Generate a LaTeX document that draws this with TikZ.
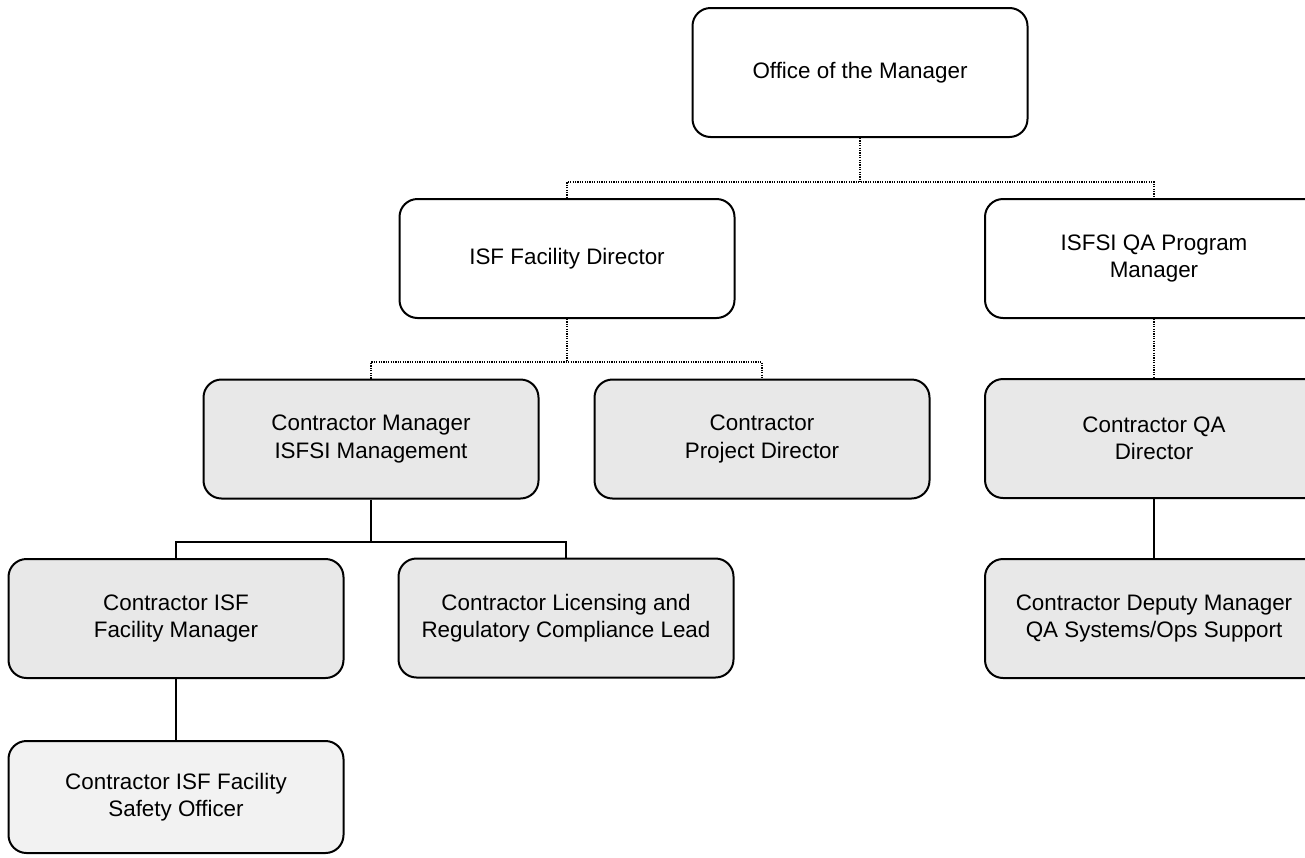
\documentclass[tikz,border=0pt]{standalone}
\usepackage{fontspec}
\setmainfont{Liberation Sans}
\begin{document}
\begin{tikzpicture}[x=0.5pt,y=-0.5pt,
  box/.style={draw=black, line width=1pt, rounded corners=9pt, align=center,
    inner sep=0pt, minimum width=167.5pt, minimum height=59.5pt,
    font=\fontsize{11.2}{13.7}\selectfont},
  shaded/.style={box, fill=black!9},
  dotline/.style={draw=black, line width=0.8pt, dash pattern=on 0.6pt off 0.6pt},
  solidline/.style={draw=black, line width=1pt}]
\useasboundingbox (0,0) rectangle (1305,857);
\clip (0,0) rectangle (1305,857);

% management level (plain boxes)
\node[box, minimum height=64.5pt] (off) at (860,72.5) {Office of the Manager};
\node[box] (isf) at (567,258.5) {ISF Facility Director};
\node[box, minimum width=169pt] (qa) at (1154,258.5) {ISFSI QA Program\\Manager};

% contractor level (shaded boxes)
\node[shaded] (cm)  at (371,439)    {Contractor Manager\\ISFSI Management};
\node[shaded] (cpd) at (762,439)    {Contractor\\Project Director};
\node[shaded, minimum width=169pt] (cqa) at (1154,438.5) {Contractor QA\\Director};
\node[shaded] (cfm) at (176,618.5)  {Contractor ISF\\Facility Manager};
\node[shaded] (clic) at (566,618)   {Contractor Licensing and\\Regulatory Compliance Lead};
\node[shaded, minimum width=169pt] (cdm) at (1154,618.5) {Contractor Deputy Manager\\QA Systems/Ops Support};
\node[shaded, fill=black!5, minimum height=56pt] (cso) at (176,797) {Contractor ISF Facility\\Safety Officer};

% junction points of the branching connectors
\coordinate (j1) at (860,182);
\coordinate (j2) at (567,362);
\coordinate (j3) at (371,542);

% dotted reporting lines
\draw[dotline] (off.south) -- (j1);
\draw[dotline] (isf.north) |- (j1) -| (qa.north);
\draw[dotline] (isf.south) -- (j2);
\draw[dotline] (cm.north) |- (j2) -| (cpd.north);
\draw[dotline] (qa.south) -- (cqa.north);

% solid reporting lines
\draw[solidline] (cm.south) -- (j3);
\draw[solidline] (cfm.north) |- (j3) -| (clic.north);
\draw[solidline] (cqa.south) -- (cdm.north);
\draw[solidline] (cfm.south) -- (cso.north);
\end{tikzpicture}
\end{document}
